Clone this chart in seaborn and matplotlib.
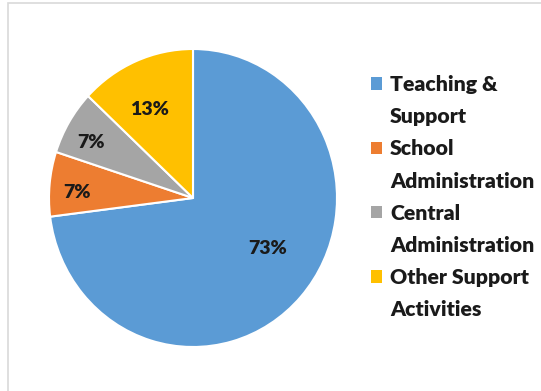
import matplotlib
matplotlib.use("Agg")
import matplotlib.pyplot as plt
from matplotlib.patches import Rectangle
import numpy as np
import seaborn as sns

# Spending breakdown
categories = ["Teaching &\nSupport", "School\nAdministration",
              "Central\nAdministration", "Other Support\nActivities"]
shares = [73, 7, 7, 13]
pct_labels = ["73%", "7%", "7%", "13%"]
colors = ["#5B9BD5", "#ED7D31", "#A5A5A5", "#FFC000"]

# label placement inside each wedge: radial distance and angular nudge (deg)
label_dist = [0.62, 0.807, 0.80, 0.67]
label_nudge = [8.6, 2.6, 2.6, 3.7]

sns.set_theme(style="white")
plt.rcParams["font.family"] = ["Lato", "DejaVu Sans"]

W, H, DPI = 541, 391, 100
fig = plt.figure(figsize=(W / DPI, H / DPI), dpi=DPI)
fig.patch.set_facecolor("white")

# pie axes: centre (193, 198) px, radii 144 x 149 px
cx, cy, rx, ry = 193, 198, 144, 149
ax = fig.add_axes([(cx - rx) / W, (H - cy - ry) / H, 2 * rx / W, 2 * ry / H])

wedges, _ = ax.pie(shares, colors=colors, startangle=90, counterclock=False,
                   radius=1, wedgeprops=dict(edgecolor="white", linewidth=1.5))
ax.set_aspect("auto")
ax.set_xlim(-1, 1)
ax.set_ylim(-1, 1)
ax.axis("off")

for w, txt, d, nud in zip(wedges, pct_labels, label_dist, label_nudge):
    mid = np.deg2rad((w.theta1 + w.theta2) / 2 + nud)
    ax.text(d * np.cos(mid), d * np.sin(mid), txt, ha="center", va="center",
            fontsize=14, fontweight="heavy", color="#1a1a1a")

# legend: one row per text line, swatch only on the first line of each entry
blank = Rectangle((0, 0), 1, 1, visible=False)
handles, labels = [], []
for w, cat in zip(wedges, categories):
    for i, line in enumerate(cat.split("\n")):
        handles.append(w if i == 0 else blank)
        labels.append(line)

FS = 15.3
leg = fig.legend(handles, labels, loc="upper left",
                 bbox_to_anchor=(371 / W, 1 - 75 / H), frameon=False,
                 fontsize=FS, handlelength=0.52, handleheight=0.52,
                 handletextpad=0.38, labelspacing=0.62,
                 borderaxespad=0, borderpad=0)
for t in leg.get_texts():
    t.set_fontweight("heavy")
    t.set_color("#1a1a1a")
for h in leg.legend_handles:
    h.set_edgecolor("none")

# light chart-area frame
fig.add_artist(Rectangle((8 / W, -0.1), 1.2, 1.1 - 3 / H, transform=fig.transFigure,
                         fill=False, edgecolor="#d9d9d9", linewidth=1.2))

fig.savefig("out.png", dpi=DPI, facecolor="white")
